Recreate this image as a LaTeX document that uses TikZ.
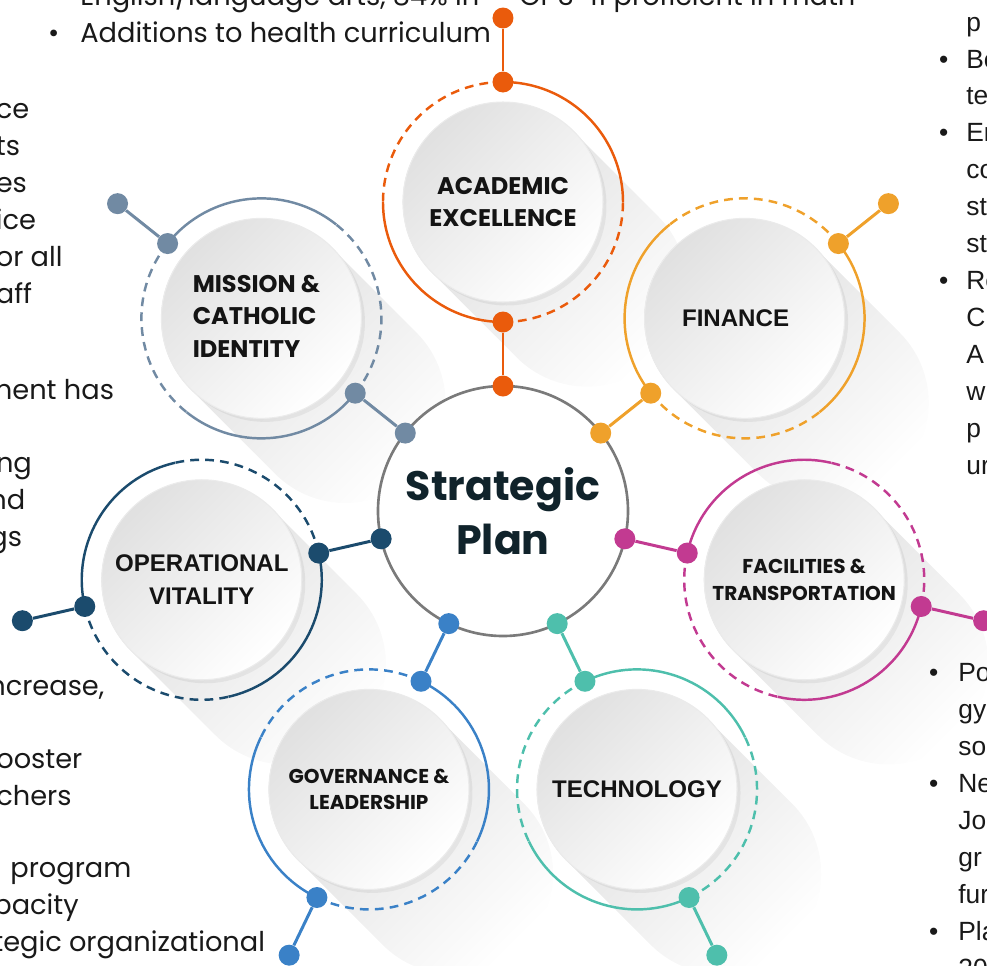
\documentclass[tikz,border=0pt]{standalone}
\usepackage{fontspec}
\setmainfont{Poppins}
\newfontfamily\arialfont{Liberation Sans}
\usetikzlibrary{calc,fadings,shadows}

\tikzfading[name=longfade, left color=transparent!85, right color=transparent!100]

\begin{document}
\begin{tikzpicture}[
  hub/.style={circle, draw=hubgray, line width=1.5pt, fill=white, minimum size=5cm, inner sep=0pt, align=center, text=hubtext, font=\bfseries\fontsize{23.4}{31}\selectfont},
  disc/.style={circle, minimum size=4cm, inner sep=0pt, draw=black!8, line width=0.6pt, top color=black!12, bottom color=white, shading angle=45, align=center, text=black!92,
    drop shadow={shadow xshift=0.07cm, shadow yshift=-0.07cm, opacity=0.12}},
  popbold/.style={font=\bfseries\fontsize{13.7}{18.5}\selectfont},
  arialbold/.style={font=\arialfont\bfseries\fontsize{13.7}{18.7}\selectfont},
  smallbold/.style={font=\bfseries\fontsize{11.4}{15}\selectfont},
  dot/.style={circle, inner sep=0pt, minimum size=0.42cm},
  link/.style={line width=1.7pt},
  fullring/.style={line width=1.4pt},
  dashring/.style={line width=1.4pt, dash pattern=on 5pt off 3.5pt},
  longshadow/.style={fill=black, path fading=longfade, fading angle=-45},
  body/.style={anchor=base west, align=left, inner sep=0pt, text=black!90, font=\fontsize{15.5}{21}\selectfont},
  side/.style={anchor=base west, align=left, inner sep=0pt, text=black!90, font=\arialfont\fontsize{15}{21}\selectfont},
]
\definecolor{acadcol}{HTML}{EA5B0C}
\definecolor{fincol}{HTML}{EFA12B}
\definecolor{misscol}{HTML}{718AA3}
\definecolor{opercol}{HTML}{1B4B6D}
\definecolor{facicol}{HTML}{C23A91}
\definecolor{govcol}{HTML}{3A81C7}
\definecolor{techcol}{HTML}{4EBFAC}
\definecolor{hubgray}{HTML}{7A7A7A}
\definecolor{hubtext}{HTML}{10232B}

\useasboundingbox (-10.06,-9.08) rectangle (9.68,10.22);

% centres of the seven rings
\coordinate (ac) at (90:6.18);
\coordinate (fi) at (38.57:6.18);
\coordinate (mi) at (141.43:6.18);
\coordinate (op) at (192.86:6.18);
\coordinate (go) at (244.29:6.18);
\coordinate (te) at (295.71:6.18);
\coordinate (fa) at (347.14:6.18);

% long shadows
\fill[longshadow] ($(ac)+(45:2)$) -- ($(ac)+(-45:2.4)+(45:2)$) arc[start angle=45, end angle=-135, radius=2] -- ($(ac)+(-135:2)$) arc[start angle=-135, end angle=-315, radius=2] -- cycle;
\fill[longshadow] ($(fi)+(45:2)$) -- ($(fi)+(-45:2.4)+(45:2)$) arc[start angle=45, end angle=-135, radius=2] -- ($(fi)+(-135:2)$) arc[start angle=-135, end angle=-315, radius=2] -- cycle;
\fill[longshadow] ($(mi)+(45:2)$) -- ($(mi)+(-45:2.4)+(45:2)$) arc[start angle=45, end angle=-135, radius=2] -- ($(mi)+(-135:2)$) arc[start angle=-135, end angle=-315, radius=2] -- cycle;
\fill[longshadow] ($(op)+(45:2)$) -- ($(op)+(-45:2.4)+(45:2)$) arc[start angle=45, end angle=-135, radius=2] -- ($(op)+(-135:2)$) arc[start angle=-135, end angle=-315, radius=2] -- cycle;
\fill[longshadow] ($(go)+(45:2)$) -- ($(go)+(-45:2.4)+(45:2)$) arc[start angle=45, end angle=-135, radius=2] -- ($(go)+(-135:2)$) arc[start angle=-135, end angle=-315, radius=2] -- cycle;
\fill[longshadow] ($(te)+(45:2)$) -- ($(te)+(-45:2.4)+(45:2)$) arc[start angle=45, end angle=-135, radius=2] -- ($(te)+(-135:2)$) arc[start angle=-135, end angle=-315, radius=2] -- cycle;
\fill[longshadow] ($(fa)+(45:2)$) -- ($(fa)+(-45:2.4)+(45:2)$) arc[start angle=45, end angle=-135, radius=2] -- ($(fa)+(-135:2)$) arc[start angle=-135, end angle=-315, radius=2] -- cycle;

\node[hub] (plan) at (0,0) {Strategic\\Plan};

% rings: solid and dashed halves
\draw[fullring, acadcol] (ac) ++(0:2.4) arc[start angle=0, end angle=90, radius=2.4] (ac) ++(180:2.4) arc[start angle=180, end angle=270, radius=2.4];
\draw[dashring, acadcol] (ac) ++(90:2.4) arc[start angle=90, end angle=180, radius=2.4] (ac) ++(270:2.4) arc[start angle=270, end angle=360, radius=2.4];
\draw[fullring, fincol] (fi) ++(-51.43:2.4) arc[start angle=-51.43, end angle=38.57, radius=2.4] (fi) ++(128.57:2.4) arc[start angle=128.57, end angle=218.57, radius=2.4];
\draw[dashring, fincol] (fi) ++(38.57:2.4) arc[start angle=38.57, end angle=128.57, radius=2.4] (fi) ++(218.57:2.4) arc[start angle=218.57, end angle=308.57, radius=2.4];
\draw[fullring, misscol] (mi) ++(51.43:2.4) arc[start angle=51.43, end angle=141.43, radius=2.4] (mi) ++(231.43:2.4) arc[start angle=231.43, end angle=321.43, radius=2.4];
\draw[dashring, misscol] (mi) ++(141.43:2.4) arc[start angle=141.43, end angle=231.43, radius=2.4] (mi) ++(-38.57:2.4) arc[start angle=-38.57, end angle=51.43, radius=2.4];
\draw[fullring, opercol] (op) ++(102.86:2.4) arc[start angle=102.86, end angle=192.86, radius=2.4] (op) ++(-77.14:2.4) arc[start angle=-77.14, end angle=12.86, radius=2.4];
\draw[dashring, opercol] (op) ++(192.86:2.4) arc[start angle=192.86, end angle=282.86, radius=2.4] (op) ++(12.86:2.4) arc[start angle=12.86, end angle=102.86, radius=2.4];
\draw[fullring, govcol] (go) ++(154.29:2.4) arc[start angle=154.29, end angle=244.29, radius=2.4] (go) ++(-25.71:2.4) arc[start angle=-25.71, end angle=64.29, radius=2.4];
\draw[dashring, govcol] (go) ++(244.29:2.4) arc[start angle=244.29, end angle=334.29, radius=2.4] (go) ++(64.29:2.4) arc[start angle=64.29, end angle=154.29, radius=2.4];
\draw[fullring, techcol] (te) ++(205.71:2.4) arc[start angle=205.71, end angle=295.71, radius=2.4] (te) ++(25.71:2.4) arc[start angle=25.71, end angle=115.71, radius=2.4];
\draw[dashring, techcol] (te) ++(-64.29:2.4) arc[start angle=-64.29, end angle=25.71, radius=2.4] (te) ++(115.71:2.4) arc[start angle=115.71, end angle=205.71, radius=2.4];
\draw[fullring, facicol] (fa) ++(-102.86:2.4) arc[start angle=-102.86, end angle=-12.86, radius=2.4] (fa) ++(77.14:2.4) arc[start angle=77.14, end angle=167.14, radius=2.4];
\draw[dashring, facicol] (fa) ++(-12.86:2.4) arc[start angle=-12.86, end angle=77.14, radius=2.4] (fa) ++(167.14:2.4) arc[start angle=167.14, end angle=257.14, radius=2.4];

% dots and links
\node[dot, fill=acadcol] (ac-hub) at (90:2.5) {};
\node[dot, fill=acadcol] (ac-in) at (90:3.78) {};
\node[dot, fill=acadcol] (ac-out) at (90:8.58) {};
\node[dot, fill=acadcol] (ac-end) at (90:9.86) {};
\draw[link, acadcol] (ac-hub) -- (ac-in) (ac-out) -- (ac-end);
\node[dot, fill=fincol] (fi-hub) at (38.57:2.5) {};
\node[dot, fill=fincol] (fi-in) at (38.57:3.78) {};
\node[dot, fill=fincol] (fi-out) at (38.57:8.58) {};
\node[dot, fill=fincol] (fi-end) at (38.57:9.86) {};
\draw[link, fincol] (fi-hub) -- (fi-in) (fi-out) -- (fi-end);
\node[dot, fill=misscol] (mi-hub) at (141.43:2.5) {};
\node[dot, fill=misscol] (mi-in) at (141.43:3.78) {};
\node[dot, fill=misscol] (mi-out) at (141.43:8.58) {};
\node[dot, fill=misscol] (mi-end) at (141.43:9.86) {};
\draw[link, misscol] (mi-hub) -- (mi-in) (mi-out) -- (mi-end);
\node[dot, fill=opercol] (op-hub) at (192.86:2.5) {};
\node[dot, fill=opercol] (op-in) at (192.86:3.78) {};
\node[dot, fill=opercol] (op-out) at (192.86:8.58) {};
\node[dot, fill=opercol] (op-end) at (192.86:9.86) {};
\draw[link, opercol] (op-hub) -- (op-in) (op-out) -- (op-end);
\node[dot, fill=govcol] (go-hub) at (244.29:2.5) {};
\node[dot, fill=govcol] (go-in) at (244.29:3.78) {};
\node[dot, fill=govcol] (go-out) at (244.29:8.58) {};
\node[dot, fill=govcol] (go-end) at (244.29:9.86) {};
\draw[link, govcol] (go-hub) -- (go-in) (go-out) -- (go-end);
\node[dot, fill=techcol] (te-hub) at (295.71:2.5) {};
\node[dot, fill=techcol] (te-in) at (295.71:3.78) {};
\node[dot, fill=techcol] (te-out) at (295.71:8.58) {};
\node[dot, fill=techcol] (te-end) at (295.71:9.86) {};
\draw[link, techcol] (te-hub) -- (te-in) (te-out) -- (te-end);
\node[dot, fill=facicol] (fa-hub) at (347.14:2.5) {};
\node[dot, fill=facicol] (fa-in) at (347.14:3.78) {};
\node[dot, fill=facicol] (fa-out) at (347.14:8.58) {};
\node[dot, fill=facicol] (fa-end) at (347.14:9.86) {};
\draw[link, facicol] (fa-hub) -- (fa-in) (fa-out) -- (fa-end);

% the seven discs
\node[disc, popbold] (acad) at (ac) {ACADEMIC\\EXCELLENCE};
\node[disc, arialbold] (fin) at (fi) {\hspace{-0.36cm}FINANCE};
\node[disc, popbold] (miss) at (mi) {\begin{tabular}{@{}l@{}}MISSION \&\\CATHOLIC\\IDENTITY\end{tabular}\hspace{0.2cm}};
\node[disc, arialbold] (oper) at (op) {OPERATIONAL\\VITALITY};
\node[disc, smallbold] (gov) at (go) {GOVERNANCE \&\\LEADERSHIP};
\node[disc, arialbold] (tech) at (te) {TECHNOLOGY};
\node[disc, smallbold] (faci) at (fa) {FACILITIES \&\\TRANSPORTATION};

% text cut off at the edges (base anchor sits on the last line)
\node[body] (topleft) at (-8.46,10.12) {English/language arts, 84\% in};
\node[body] (topright) at (0.32,10.12) {Gr 3-11 proficient in math};
\node[body] (health) at (-8.46,9.38) {\llap{•\hspace{0.42cm}}Additions to health curriculum};
\node[body] (leftA) at (-10.15,4.16) {ce\\ts\\es\\ice\\or all\\aff};
\node[body] (leftB) at (-10.38,2.24) {ment has};
\node[body] (leftC) at (-10.28,-0.70) {ing\\nd\\gs};
\node[body] (leftD) at (-10.30,-3.68) {ncrease,};
\node[body] (leftE) at (-10.14,-5.88) {ooster\\chers};
\node[body] (leftF) at (-9.86,-7.32) {program};
\node[body] (leftG) at (-10.20,-8.80) {pacity\\tegic organizational};
\node[side] (rightA) at (9.26,0.74) {p\\\llap{•\hspace{0.36cm}}Be\\te\\\llap{•\hspace{0.36cm}}En\\co\\st\\st\\\llap{•\hspace{0.36cm}}Re\\C\\A\\w\\p\\ur};
\node[side] (rightB) at (9.10,-9.32) {\llap{•\hspace{0.4cm}}Po\\gy\\so\\\llap{•\hspace{0.4cm}}Ne\\Jo\\gr\\fur\\\llap{•\hspace{0.4cm}}Pla\\20};
\end{tikzpicture}
\end{document}
